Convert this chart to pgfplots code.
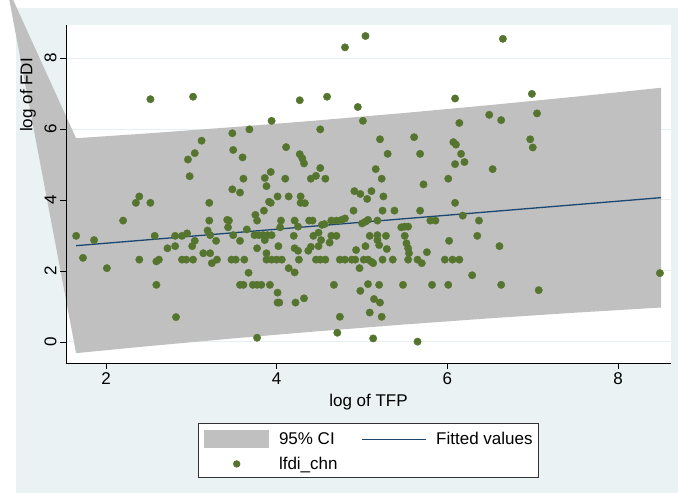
\documentclass[border=0pt]{standalone}
\usepackage{pgfplots}
\pgfplotsset{compat=1.18}
\usepackage{fontspec}
\setmainfont{Liberation Sans}
\definecolor{bgc}{HTML}{EAF2F3}
\definecolor{cigray}{HTML}{C0C0C0}
\definecolor{fitc}{HTML}{1A476F}
\definecolor{dotc}{HTML}{55752F}
\definecolor{gridc}{HTML}{E6EFF1}
\newcommand{\fs}{\fontsize{17}{20}\selectfont}
\pgfplotstableread{
x y
2.52 6.84
3.02 6.91
3.12 5.67
3.04 5.32
2.96 5.14
2.98 4.67
2.39 4.10
2.35 3.92
2.52 3.92
2.20 3.42
1.65 2.99
1.86 2.87
2.57 2.99
2.81 2.99
2.89 2.99
2.95 3.06
1.73 2.37
2.01 2.08
2.39 2.32
2.59 2.27
2.62 2.32
2.72 2.64
2.81 2.70
3.01 2.70
3.04 2.85
2.89 2.32
2.94 2.32
3.02 2.32
2.59 1.61
2.82 0.70
4.27 6.81
3.94 6.23
3.68 5.99
3.48 5.88
4.51 5.99
3.49 5.41
3.60 5.20
4.11 5.49
4.27 5.29
4.30 5.17
4.32 5.03
4.51 4.90
3.93 4.79
3.86 4.62
3.61 4.60
4.10 4.60
3.88 4.39
3.48 4.30
3.57 4.21
4.40 4.60
4.46 4.68
4.57 4.60
3.21 3.92
3.91 3.95
3.93 3.92
4.01 4.10
4.14 4.10
4.28 4.10
4.28 3.92
4.33 3.91
3.85 3.70
3.75 3.58
3.77 3.42
3.21 3.42
3.42 3.44
3.44 3.42
3.43 3.23
4.05 3.42
4.04 3.23
4.21 3.42
4.25 3.25
4.38 3.42
4.42 3.42
3.65 3.17
3.19 3.14
3.22 3.01
3.49 3.01
3.74 3.01
3.79 3.01
3.84 3.01
3.89 3.01
3.94 3.01
4.20 2.99
4.43 2.99
4.49 3.08
3.29 2.85
3.57 2.85
3.86 2.87
4.02 2.70
3.77 2.64
4.21 2.64
4.25 2.57
4.40 2.68
4.37 2.57
3.14 2.50
3.22 2.50
3.24 2.22
3.30 2.32
3.47 2.32
3.52 2.32
3.62 2.32
3.88 2.50
3.88 2.32
3.94 2.32
4.00 2.32
4.06 2.32
4.26 2.32
4.46 2.32
4.14 2.08
4.21 1.96
3.67 1.95
3.57 1.61
3.61 1.61
3.72 1.61
3.77 1.61
3.82 1.61
3.92 1.61
4.01 1.39
4.01 1.11
4.03 1.11
4.22 1.11
4.32 1.23
3.77 0.12
5.04 8.62
4.80 8.30
4.59 6.91
4.95 6.62
5.01 6.23
5.21 5.71
5.61 5.77
5.30 5.30
5.68 5.30
5.16 4.87
5.23 4.60
5.72 4.44
4.91 4.25
4.98 4.17
5.11 4.25
5.06 4.03
5.25 4.10
4.90 3.70
5.24 3.70
5.38 3.70
5.68 3.70
4.64 3.42
4.70 3.42
4.76 3.44
4.80 3.48
4.53 3.30
4.56 3.32
5.00 3.34
5.04 3.39
5.07 3.44
5.18 3.42
5.46 3.23
5.50 3.25
5.54 3.25
5.80 3.42
5.86 3.42
4.52 2.87
4.64 2.99
4.70 2.99
5.09 2.99
5.18 3.01
5.18 2.87
5.20 2.73
5.28 2.99
5.50 2.99
5.52 2.78
5.54 2.64
5.55 2.50
4.49 2.70
4.62 2.80
5.04 2.70
4.93 2.59
5.29 2.62
5.76 2.53
4.51 2.32
4.57 2.32
4.74 2.32
4.80 2.32
4.88 2.32
4.92 2.32
5.02 2.32
5.07 2.32
5.11 2.26
5.13 2.22
5.24 2.32
5.36 2.32
5.54 2.32
5.65 2.32
5.70 2.22
4.97 2.08
4.67 1.61
5.07 1.63
5.20 1.61
5.48 1.61
5.82 1.61
4.98 1.44
5.14 1.21
5.21 1.11
5.09 0.83
5.23 0.71
4.74 0.71
4.71 0.26
5.13 0.10
5.65 0.01
6.65 8.54
6.09 6.86
6.99 6.99
6.49 6.40
6.63 6.25
7.05 6.44
6.14 6.17
6.07 5.63
6.10 5.56
6.97 5.71
7.00 5.48
6.16 5.30
6.20 5.07
6.09 5.01
6.53 4.87
6.01 4.60
6.09 3.92
6.18 3.56
6.37 3.42
6.35 2.99
6.02 2.85
6.61 2.70
5.97 2.32
6.06 2.32
6.14 2.32
6.29 1.88
6.01 1.61
6.63 1.61
7.07 1.46
8.49 1.94
}\scatterdata
\begin{document}
\begin{tikzpicture}
\fill[white] (0pt,0pt) rectangle (678pt,493pt);
\fill[bgc] (16pt,0pt) rectangle (678pt,485pt);
\fill[white] (66pt,130pt) rectangle (671pt,468pt);
\begin{axis}[
  at={(66pt,130pt)}, anchor=south west,
  scale only axis, width=605pt, height=338pt,
  xmin=1.531, xmax=8.620, ymin=-0.592, ymax=8.930,
  axis on top, clip=false,
  axis x line*=bottom, axis y line*=left,
  axis line style={black, line width=0.8pt},
  xtick={2,4,6,8}, ytick={0,2,4,6,8},
  tick align=outside, major tick length=6pt,
  tick style={black, line width=0.8pt},
  /pgf/number format/assume math mode=true,
  ticklabel style={font=\fs},
  yticklabel style={rotate=90, anchor=south},
  xlabel={log of TFP}, ylabel={log of FDI},
  xlabel style={font=\fs, at={(axis description cs:0.5,0)}, anchor=center, yshift=-39pt},
  ylabel style={font=\fs, at={(axis description cs:-0.0628,0.793)}, anchor=center},
  legend columns=2,
  legend cell align=left,
  legend style={at={(axis description cs:0.5,-0.1775)}, anchor=north,
    font=\fs, draw=black!80, line width=0.8pt, fill=white,
    inner xsep=6pt, inner ysep=7pt, row sep=9pt,
    nodes={inner sep=0pt},
    /tikz/every odd column/.append style={column sep=10pt},
    /tikz/every even column/.append style={column sep=24pt}},
]
\pgfplotsinvokeforeach{0,2,4,6,8}{\draw[gridc, line width=1pt] (axis cs:1.531,#1) -- (axis cs:8.620,#1);}
\addplot[fill=cigray, draw=none,
  legend image code/.code={\fill[cigray] (0pt,-8.8pt) rectangle (64.6pt,8.8pt);}]
  coordinates {(0.835,10.04) (1.649,5.740) (2.5,5.878) (3.5,6.055) (4.4,6.226) (5.5,6.452) (6.5,6.674) (7.5,6.910) (8.503,7.161)
   (8.503,0.971) (7.5,0.826) (6.5,0.668) (5.5,0.494) (4.4,0.286) (3.5,0.103) (2.5,-0.116) (1.649,-0.314)} -- cycle;
\addlegendentry{95\% CI}
\addplot[fitc, line width=1.3pt,
  legend image code/.code={\draw[fitc, line width=1.3pt] (0pt,0pt) -- (63.3pt,0pt);}]
  coordinates {(1.649,2.713) (8.503,4.066)};
\addlegendentry{Fitted values}
\addplot[only marks, mark=*, mark size=3.7pt, mark options={fill=dotc, draw=dotc},
  legend image code/.code={\fill[dotc, draw=none] (32.3pt,0pt) circle (3.7pt); \path[draw=none, fill=none] (0pt,-3pt) rectangle (64.6pt,3pt);}]
  table[x=x, y=y] {\scatterdata};
\addlegendentry{lfdi\_chn}
\end{axis}
\pgfresetboundingbox
\useasboundingbox (0pt,0pt) rectangle (678pt,493pt);
\end{tikzpicture}
\end{document}
